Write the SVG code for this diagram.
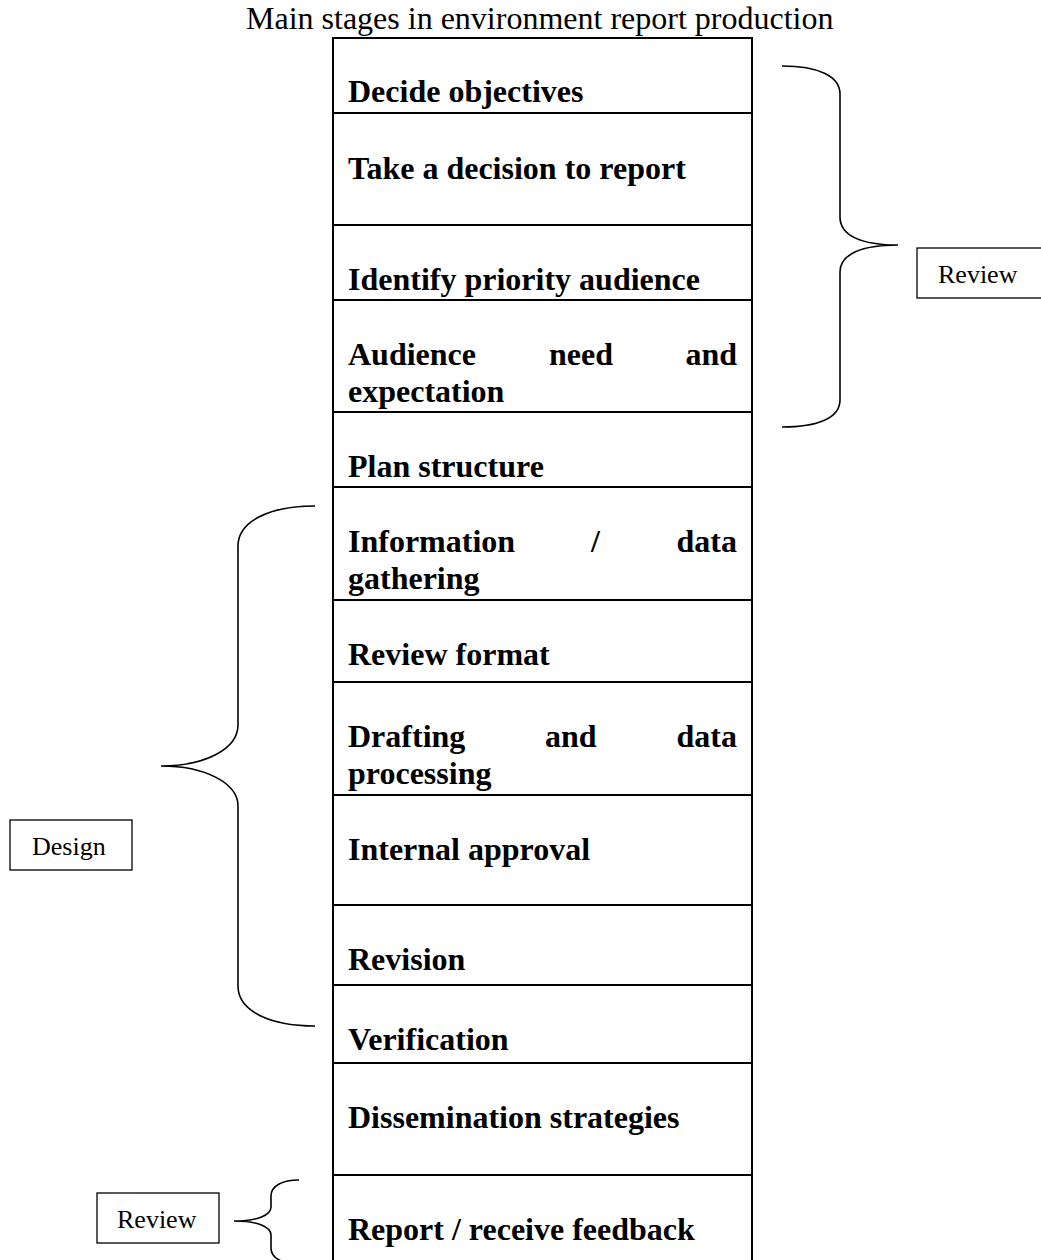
<svg xmlns="http://www.w3.org/2000/svg" width="1041" height="1260" viewBox="0 0 1041 1260">
<style>
.cell{fill:none;stroke:#000;stroke-width:2}
.st{font-family:"Liberation Serif","Times New Roman",serif;font-size:32px;font-weight:bold;fill:#000}
.title{font-family:"Liberation Serif","Times New Roman",serif;font-size:32px;fill:#000}
.lbl{font-family:"Liberation Serif","Times New Roman",serif;font-size:26px;fill:#000}
.lbox{fill:#fff;stroke:#000;stroke-width:1.3}
.brace{fill:none;stroke:#000;stroke-width:1.6}
</style>
<rect width="1041" height="1260" fill="#fff"/>
<text class="title" x="246" y="29">Main stages in environment report production</text>

<g id="stage-decide"><rect class="cell" x="333" y="38" width="419" height="75"/><text class="st" x="348" y="102">Decide objectives</text></g>
<g id="stage-decision"><rect class="cell" x="333" y="113" width="419" height="112"/><text class="st" x="348" y="179">Take a decision to report</text></g>
<g id="stage-identify"><rect class="cell" x="333" y="225" width="419" height="75"/><text class="st" x="348" y="290">Identify priority audience</text></g>
<g id="stage-need"><rect class="cell" x="333" y="300" width="419" height="112"/><text class="st" y="365"><tspan x="348">Audience</tspan><tspan x="549">need</tspan><tspan x="737" text-anchor="end">and</tspan></text><text class="st" x="348" y="402">expectation</text></g>
<g id="stage-plan"><rect class="cell" x="333" y="412" width="419" height="75"/><text class="st" x="348" y="477">Plan structure</text></g>
<g id="stage-info"><rect class="cell" x="333" y="487" width="419" height="113"/><text class="st" y="552"><tspan x="348">Information</tspan><tspan x="591">/</tspan><tspan x="737" text-anchor="end">data</tspan></text><text class="st" x="348" y="589">gathering</text></g>
<g id="stage-format"><rect class="cell" x="333" y="600" width="419" height="82"/><text class="st" x="348" y="665">Review format</text></g>
<g id="stage-drafting"><rect class="cell" x="333" y="682" width="419" height="113"/><text class="st" y="747"><tspan x="348">Drafting</tspan><tspan x="545">and</tspan><tspan x="737" text-anchor="end">data</tspan></text><text class="st" x="348" y="784">processing</text></g>
<g id="stage-approval"><rect class="cell" x="333" y="795" width="419" height="110"/><text class="st" x="348" y="860">Internal approval</text></g>
<g id="stage-revision"><rect class="cell" x="333" y="905" width="419" height="80"/><text class="st" x="348" y="970">Revision</text></g>
<g id="stage-verification"><rect class="cell" x="333" y="985" width="419" height="78"/><text class="st" x="348" y="1050">Verification</text></g>
<g id="stage-dissemination"><rect class="cell" x="333" y="1063" width="419" height="112"/><text class="st" x="348" y="1128">Dissemination strategies</text></g>
<g id="stage-report"><rect class="cell" x="333" y="1175" width="419" height="90"/><text class="st" x="348" y="1240">Report / receive feedback</text></g>

<g id="connectors">
<path class="brace" d="M782,66 C818,66 840,76 840,94 L840,217 C840,236 862,245 898,245 C862,245 840,254 840,272 L840,400 C840,418 818,427 782,427"/>
<path class="brace" d="M315,506 C268,506 238,522 238,546 L238,725 C238,749 205,766 161,766 C205,766 238,783 238,806 L238,986 C238,1010 268,1026 315,1026"/>
<path class="brace" d="M299,1180 C282,1180 271,1186 271,1196 L271,1207 C271,1215 258,1221 234,1221 C258,1221 271,1227 271,1235 L271,1248 C271,1258 282,1264 299,1264"/>
</g>

<g id="label-review-top"><rect class="lbox" x="917" y="248" width="130" height="50"/><text class="lbl" x="938" y="283">Review</text></g>
<g id="label-design"><rect class="lbox" x="10" y="820" width="122" height="50"/><text class="lbl" x="32" y="855">Design</text></g>
<g id="label-review-bottom"><rect class="lbox" x="97" y="1193" width="122" height="50"/><text class="lbl" x="117" y="1228">Review</text></g>
</svg>
